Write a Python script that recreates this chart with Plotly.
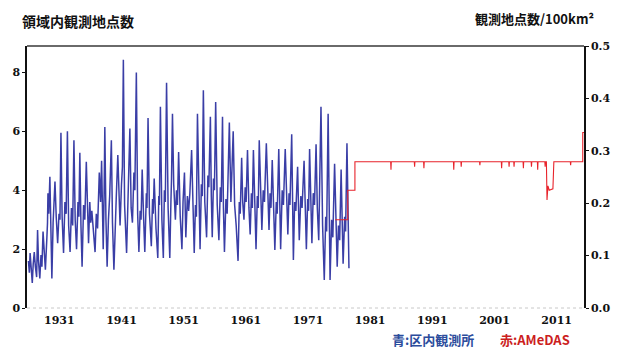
import plotly.graph_objects as go

# 区内観測所: station count in the area (left axis), two years per row
blue_years = [
    1926.03, 1926.18, 1926.30, 1926.50, 1926.65, 1926.80, 1926.97, 1927.15, 1927.35, 1927.50, 1927.65, 1927.86, 1928.05, 1928.20, 1928.38, 1928.55, 1928.76,
    1929.00, 1929.10, 1929.17, 1929.30, 1929.48, 1929.62, 1929.80, 1930.00, 1930.15, 1930.30, 1930.50, 1930.73, 1930.95,
    1931.10, 1931.26, 1931.45, 1931.68, 1931.90, 1932.10, 1932.30, 1932.50, 1932.73, 1932.95,
    1933.15, 1933.35, 1933.55, 1933.77, 1934.00, 1934.15, 1934.30, 1934.48, 1934.66, 1934.90,
    1935.10, 1935.34, 1935.50, 1935.70, 1935.90, 1936.05, 1936.23, 1936.45, 1936.75, 1936.95,
    1937.15, 1937.43, 1937.64, 1937.80, 1938.06, 1938.20, 1938.32, 1938.50, 1938.69, 1938.90,
    1939.10, 1939.37, 1939.55, 1939.78, 1939.95, 1940.15, 1940.41, 1940.60, 1940.77,
    1941.00, 1941.15, 1941.30, 1941.50, 1941.82, 1942.00, 1942.15, 1942.35, 1942.55, 1942.76,
    1943.00, 1943.15, 1943.39, 1943.60, 1943.80, 1944.00, 1944.15, 1944.33, 1944.55, 1944.75,
    1945.00, 1945.10, 1945.27, 1945.50, 1945.80, 1946.00, 1946.10, 1946.26, 1946.55, 1946.84,
    1947.00, 1947.10, 1947.26, 1947.50, 1947.73, 1947.90, 1948.05, 1948.25, 1948.50, 1948.77, 1948.95,
    1949.05, 1949.20, 1949.40, 1949.67, 1949.85, 1950.00, 1950.19, 1950.45, 1950.72, 1950.90,
    1951.13, 1951.35, 1951.60, 1951.80, 1952.00, 1952.28, 1952.50, 1952.70, 1952.90,
    1953.05, 1953.22, 1953.45, 1953.64, 1953.85, 1954.00, 1954.17, 1954.40, 1954.69, 1954.90,
    1955.05, 1955.30, 1955.45, 1955.60, 1955.80, 1955.95, 1956.15, 1956.40, 1956.67, 1956.90,
    1957.05, 1957.25, 1957.40, 1957.56, 1957.80, 1958.00, 1958.35, 1958.60, 1958.97,
    1959.20, 1959.45, 1959.75, 1959.95, 1960.10, 1960.33, 1960.50, 1960.70, 1960.90,
    1961.05, 1961.27, 1961.50, 1961.70, 1961.90, 1962.05, 1962.22, 1962.45, 1962.64, 1962.85,
    1963.00, 1963.16, 1963.38, 1963.58, 1963.80, 1964.00, 1964.30, 1964.50, 1964.73, 1964.90,
    1965.05, 1965.25, 1965.45, 1965.67, 1965.90, 1966.05, 1966.30, 1966.45, 1966.60, 1966.85,
    1967.05, 1967.34, 1967.55, 1967.76, 1967.95, 1968.10, 1968.38, 1968.50, 1968.65, 1968.85,
    1969.05, 1969.33, 1969.45, 1969.60, 1969.85, 1970.05, 1970.37, 1970.55, 1970.74, 1970.95,
    1971.10, 1971.26, 1971.45, 1971.63, 1971.85, 1972.05, 1972.30, 1972.50, 1972.73, 1972.90,
    1973.09, 1973.35, 1973.62, 1973.85, 1974.00, 1974.24, 1974.40, 1974.55, 1974.80,
    1975.00, 1975.28, 1975.50, 1975.70, 1975.90, 1976.10, 1976.33, 1976.50, 1976.65, 1976.90, 1977.05, 1977.27, 1977.45, 1977.59,
]
blue_vals = [
    1.60, 1.20, 1.87, 1.30, 0.85, 1.50, 1.90, 1.40, 1.05, 2.65, 1.60, 1.00, 1.80, 1.40, 2.60, 2.00, 1.30,
    2.40, 2.90, 3.90, 3.20, 4.46, 2.60, 1.00, 2.90, 3.40, 4.30, 3.10, 2.20, 3.20,
    3.00, 5.95, 3.10, 1.87, 3.60, 3.20, 6.00, 2.80, 1.90, 3.40,
    2.80, 5.70, 3.00, 2.00, 3.60, 3.10, 5.27, 2.80, 1.40, 3.50,
    3.00, 4.97, 3.20, 2.20, 3.60, 2.90, 3.30, 2.60, 1.90, 3.20,
    2.70, 4.60, 3.60, 5.00, 2.00, 3.80, 6.15, 3.00, 1.40, 3.00,
    3.80, 5.70, 2.90, 1.30, 2.60, 3.70, 5.20, 3.30, 2.80,
    4.20, 4.80, 8.43, 3.50, 1.87, 3.50, 4.10, 6.10, 3.40, 2.90,
    4.60, 4.00, 8.00, 3.20, 1.90, 3.30, 3.00, 4.70, 3.10, 1.90,
    3.90, 3.40, 6.45, 3.20, 2.10, 3.70, 3.20, 4.40, 2.70, 1.70,
    3.80, 3.50, 6.84, 3.00, 1.70, 4.00, 3.60, 7.65, 3.40, 1.70, 3.60,
    4.40, 6.60, 4.20, 3.00, 4.00, 3.50, 5.30, 3.10, 2.00, 3.60,
    4.60, 2.40, 3.80, 3.30, 3.90, 5.37, 3.00, 1.87, 3.50,
    3.10, 6.60, 3.40, 2.00, 4.20, 3.80, 7.40, 3.60, 2.40, 4.50,
    4.10, 6.50, 3.80, 2.40, 4.40, 4.00, 7.00, 3.50, 2.30, 4.10,
    3.60, 6.50, 3.40, 1.90, 3.70, 3.20, 6.30, 3.60, 6.00,
    3.50, 2.80, 1.60, 3.60, 3.20, 5.10, 3.60, 3.00, 4.10,
    3.60, 5.37, 3.40, 2.50, 3.90, 3.40, 5.37, 3.10, 2.00, 3.80,
    3.40, 5.70, 3.60, 2.65, 4.00, 3.60, 5.60, 3.70, 2.65, 3.90,
    3.40, 5.03, 3.20, 1.97, 3.60, 3.20, 5.40, 3.30, 2.00, 4.00,
    3.50, 5.40, 3.50, 2.50, 3.90, 3.50, 5.90, 3.10, 1.63, 3.60,
    3.30, 4.80, 3.40, 2.30, 3.80, 3.40, 5.00, 3.10, 2.00, 3.70,
    3.30, 5.40, 3.20, 2.20, 3.90, 3.50, 5.56, 3.40, 2.30, 4.20,
    6.84, 2.80, 0.95, 3.10, 2.60, 6.60, 2.40, 0.95, 3.00,
    2.40, 4.90, 2.50, 1.40, 2.80, 2.30, 4.70, 2.40, 1.50, 3.10, 2.60, 5.60, 2.60, 1.35,
]

# AMeDAS: station count in the area (left axis)
red_years = [
    1975.40, 1977.40, 1977.40, 1978.55, 1978.55,
    1984.30, 1984.35, 1984.40,
    1988.10, 1988.15, 1988.20, 1989.60, 1989.65, 1989.70,
    1994.40, 1994.45, 1994.50, 1995.60, 1995.65, 1995.70,
    1998.60, 1998.65, 1998.70,
    2002.10, 2002.15, 2002.20, 2003.30, 2003.35, 2003.40,
    2004.10, 2004.15, 2004.20, 2005.60, 2005.65, 2005.70,
    2006.90, 2006.95, 2007.00, 2007.90, 2007.95, 2008.00,
    2009.10, 2009.15, 2009.20, 2009.35, 2009.45, 2009.60, 2009.80, 2010.40, 2010.55, 2010.70,
    2013.20, 2013.25, 2013.30,
    2015.20, 2015.20, 2015.40,
]
red_vals = [
    3.00, 3.00, 4.00, 4.00, 4.97,
    4.97, 4.70, 4.97,
    4.97, 4.80, 4.97, 4.97, 4.75, 4.97,
    4.97, 4.70, 4.97, 4.97, 4.80, 4.97,
    4.97, 4.85, 4.97,
    4.97, 4.75, 4.97, 4.97, 4.80, 4.97,
    4.97, 4.80, 4.97, 4.97, 4.75, 4.97,
    4.97, 4.80, 4.97, 4.97, 4.70, 4.97,
    4.97, 4.80, 4.97, 4.97, 3.67, 4.15, 4.00, 4.05, 4.97, 4.97,
    4.97, 4.85, 4.97,
    4.97, 5.96, 5.96,
]

x_ticks = [1931, 1941, 1951, 1961, 1971, 1981, 1991, 2001, 2011]
y_ticks = [0, 2, 4, 6, 8]
y2_ticks = [0.0, 0.1, 0.2, 0.3, 0.4, 0.5]

num_font = dict(family="DejaVu Serif", size=11, color="#111111", weight="bold")
cjk_font = dict(family="Noto Sans CJK JP", size=14, color="#111111", weight="bold")

fig = go.Figure()
fig.add_trace(go.Scatter(x=blue_years, y=blue_vals, mode="lines",
                         line=dict(color="#3a3ea6", width=1.5), showlegend=False))
fig.add_trace(go.Scatter(x=red_years, y=red_vals, mode="lines",
                         line=dict(color="#e8232b", width=1.1), showlegend=False))
# invisible trace so the secondary (density) axis is drawn
fig.add_trace(go.Scatter(x=[1926], y=[0], yaxis="y2", mode="markers",
                         marker=dict(opacity=0), showlegend=False, hoverinfo="skip"))

fig.update_layout(
    width=622, height=348,
    margin=dict(l=27, r=24, t=46, b=40),
    paper_bgcolor="white", plot_bgcolor="white",
    xaxis=dict(range=[1925.8, 2015.4], tickvals=x_ticks, ticktext=[str(v) for v in x_ticks],
               showgrid=False, zeroline=False, showline=False, ticks="",
               tickfont=num_font, ticklabelstandoff=4),
    yaxis=dict(range=[0, 8.9], tickvals=y_ticks, showgrid=False, zeroline=False,
               showline=True, linecolor="#111111", linewidth=1.5,
               ticks="outside", ticklen=3, tickcolor="#111111",
               tickfont=num_font, ticklabelstandoff=0),
    yaxis2=dict(range=[0, 0.5], tickvals=y2_ticks, tickformat=".1f", overlaying="y",
                side="right", showgrid=False, zeroline=False,
                showline=True, linecolor="#111111", linewidth=1.5,
                ticks="outside", ticklen=3, tickcolor="#111111",
                tickfont=num_font, ticklabelstandoff=0),
    shapes=[
        dict(type="line", xref="paper", yref="paper", x0=0, x1=1, y0=1, y1=1,
             line=dict(color="#6a6a6a", width=2)),
        dict(type="line", xref="paper", yref="paper", x0=0, x1=1, y0=0, y1=0,
             line=dict(color="#c8c8c8", width=1, dash="dot")),
    ],
    annotations=[
        dict(text="領域内観測地点数", xref="paper", yref="paper", x=-0.013, y=1.0,
             yshift=25, xanchor="left", yanchor="middle", showarrow=False, font=cjk_font),
        dict(text="観測地点数/100km²", xref="paper", yref="paper", x=1.022, y=1.0,
             yshift=28, xanchor="right", yanchor="middle", showarrow=False,
             font=dict(cjk_font, size=13)),
        dict(text="青:区内観測所", xref="paper", yref="paper", x=0.652, y=0, yshift=-31,
             xanchor="left", yanchor="middle", showarrow=False,
             font=dict(family="Noto Sans CJK JP", size=13, color="#2c4c9c", weight="bold")),
        dict(text="赤:AMeDAS", xref="paper", yref="paper", x=0.845, y=0, yshift=-31,
             xanchor="left", yanchor="middle", showarrow=False,
             font=dict(family="Noto Sans CJK JP", size=13, color="#cc1f1f", weight="bold")),
    ],
)

fig.write_html("out.html")
